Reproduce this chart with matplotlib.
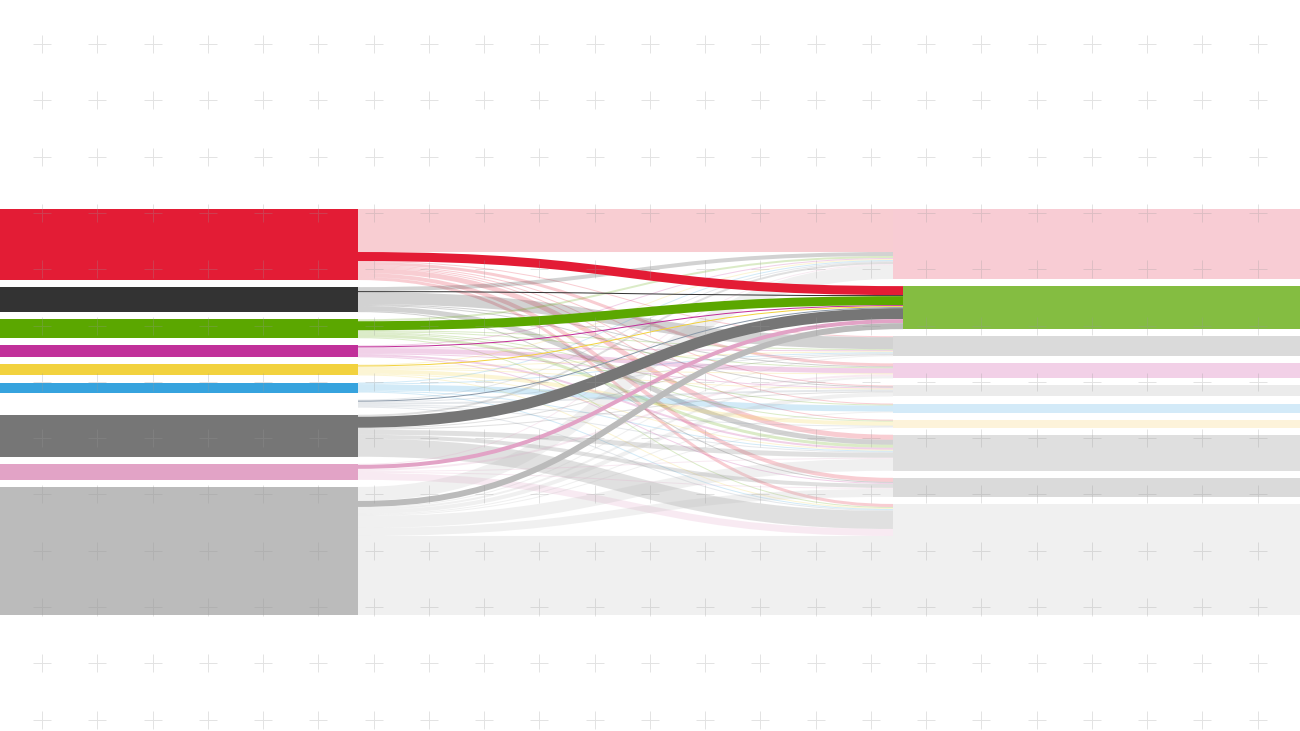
import numpy as np
import matplotlib
matplotlib.use('Agg')
import matplotlib.pyplot as plt
from matplotlib.path import Path
from matplotlib.patches import PathPatch, Rectangle

# left column (sources), top to bottom
sources = ['A', 'B', 'C', 'D', 'E', 'F', 'G', 'H', 'I', 'J']
source_colors = ['#e31c35', '#333333', '#5ba700', '#c1309a', '#f2d23e',
                 '#36a3de', '#ffffff', '#767676', '#e2a3c6', '#bbbbbb']
# colour used for the links leaving each source
link_colors = ['#e31c35', '#333333', '#5ba700', '#c1309a', '#f2d23e',
               '#36a3de', '#8a98a8', '#767676', '#e2a3c6', '#bbbbbb']

# right column (targets), top to bottom
targets = ['A', 'C', 'B', 'D', 'G', 'F', 'E', 'H', 'I', 'J']
target_colors = ['#f8ccd4', '#84bd41', '#dadada', '#f2d0e7', '#ebebeb',
                 '#d3eaf8', '#fdf3da', '#dfdfdf', '#dadada', '#f0f0f0']
highlight = 1

# flows[source, target]
flows = np.array([
    [43, 9, 1, 3, 1, 1, 1, 5, 4, 3],
    [4, 1, 12, 1, 1, 0, 0, 5, 1, 0],
    [2, 9, 1, 1, 0, 1, 1, 3, 0, 1],
    [1, 1, 1, 5, 1, 0, 0, 2, 1, 0],
    [1, 1, 1, 1, 1, 0, 4, 1, 0, 1],
    [1, 0, 1, 0, 0, 6, 0, 1, 0, 1],
    [1, 1, 1, 0, 2, 0, 1, 1, 0, 1],
    [2, 11, 1, 0, 1, 0, 0, 5, 4, 18],
    [1, 4, 0, 2, 0, 0, 0, 1, 1, 7],
    [14, 6, 1, 2, 4, 1, 1, 12, 8, 79],
])

# layout in pixels
top, bottom = 209, 615
pad = 7.1
ky = (bottom - top - pad * (len(sources) - 1)) / flows.sum()
xl0, xl1 = 0, 358
xr0, xr1 = 893, 1300
xh0 = 903

fig = plt.figure(figsize=(13, 7.31), dpi=100)
ax = fig.add_axes([0, 0, 1, 1])
ax.set_xlim(0, 1300)
ax.set_ylim(731, 0)
ax.axis('off')

src_tot = flows.sum(axis=1)
tgt_tot = flows.sum(axis=0)
src_y = top + np.concatenate([[0], np.cumsum(src_tot * ky + pad)[:-1]])
tgt_y = top + np.concatenate([[0], np.cumsum(tgt_tot * ky + pad)[:-1]])

for i in range(len(sources)):
    ax.add_patch(Rectangle((xl0, src_y[i]), xl1 - xl0, src_tot[i] * ky,
                           color=source_colors[i], lw=0, zorder=3))
for j in range(len(targets)):
    x0 = xh0 if j == highlight else xr0
    ax.add_patch(Rectangle((x0, tgt_y[j]), xr1 - x0, tgt_tot[j] * ky,
                           color=target_colors[j], lw=0, zorder=3))

# link offsets: at sources ordered by target, at targets ordered by source
s_off = np.zeros_like(flows, dtype=float)
t_off = np.zeros_like(flows, dtype=float)
for i in range(len(sources)):
    y = src_y[i]
    for j in range(len(targets)):
        s_off[i, j] = y
        y += flows[i, j] * ky
for j in range(len(targets)):
    y = tgt_y[j]
    for i in range(len(sources)):
        t_off[i, j] = y
        y += flows[i, j] * ky


def draw_link(i, j, color, alpha, z):
    w = flows[i, j] * ky
    if w <= 0:
        return
    x0 = xl1
    x1 = xh0 if j == highlight else xr0
    y0 = s_off[i, j] + w / 2
    y1 = t_off[i, j] + w / 2
    xm = (x0 + x1) / 2
    p = Path([(x0, y0), (xm, y0), (xm, y1), (x1, y1)],
             [Path.MOVETO, Path.CURVE4, Path.CURVE4, Path.CURVE4])
    ax.add_patch(PathPatch(p, fill=False, edgecolor=color, alpha=alpha,
                           lw=w * 0.72, capstyle='butt', zorder=z))


for i in range(len(sources)):
    for j in range(len(targets)):
        if j != highlight:
            draw_link(i, j, link_colors[i], 0.22, 1)
for i in range(len(sources)):
    draw_link(i, highlight, link_colors[i], 1.0, 2)

# background cross grid
gx = 42 + 55.25 * np.arange(23)
gy = 44 + 56.3 * np.arange(13)
GX, GY = np.meshgrid(gx, gy)
ax.plot(GX.ravel(), GY.ravel(), '+', color='#999999', alpha=0.28,
        ms=13, mew=0.7, zorder=5)

fig.savefig('out.png', dpi=100)
